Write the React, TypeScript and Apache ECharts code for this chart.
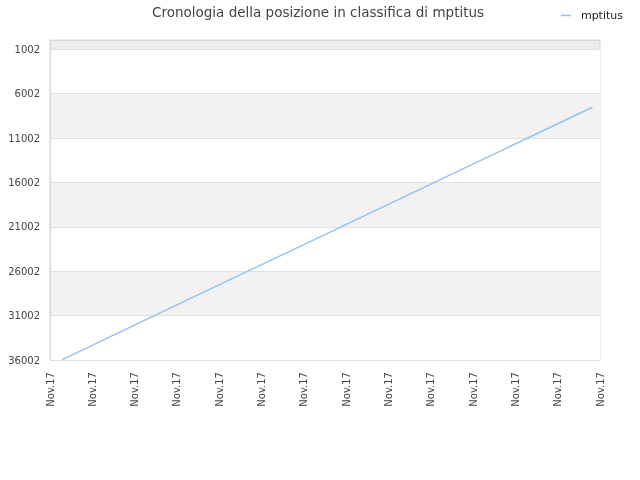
import { useEffect, useRef } from "react";
import * as echarts from "echarts";

// x position measured in label steps (0 = first "Nov.17" label)
const dayPos = [0.29, 3, 6, 9, 12.82];
const ranks = [35950, 29800, 23000, 16190, 7526];
const xLabels = [
  "Nov.17", "Nov.17", "Nov.17", "Nov.17", "Nov.17", "Nov.17", "Nov.17",
  "Nov.17", "Nov.17", "Nov.17", "Nov.17", "Nov.17", "Nov.17", "Nov.17",
];
const yTicks = [1002, 6002, 11002, 16002, 21002, 26002, 31002, 36002];

const FONT = "DejaVu Sans";
const LINE = "#94c0f0";

export default function App() {
  const chartRef = useRef<HTMLDivElement>(null);

  useEffect(() => {
    if (!chartRef.current) return;
    const chart = echarts.init(chartRef.current, null, { renderer: "svg" });

    const option: echarts.EChartsOption = {
      animation: false,
      title: {
        text: "Cronologia della posizione in classifica di mptitus",
        left: 152,
        top: 5,
        padding: 0,
        textStyle: {
          fontFamily: FONT,
          fontSize: 13.5,
          fontWeight: "normal",
          color: "#444",
        },
      },
      legend: {
        right: 12,
        top: 5,
        itemWidth: 10,
        itemHeight: 8,
        icon: "path://M0,3.5 L10,3.5 L10,5 L0,5 Z",
        textStyle: {
          fontFamily: FONT,
          fontSize: 11,
          color: "#222",
          padding: [0, 0, 0, 5],
        },
        data: ["mptitus"],
      },
      grid: {
        left: 50,
        right: 40,
        top: 40,
        bottom: 120,
        show: true,
        backgroundColor: "#ececec",
        borderColor: "#d8d8d8",
        borderWidth: 1,
      },
      xAxis: {
        type: "value",
        min: 0,
        max: xLabels.length - 1,
        interval: 1,
        axisLine: { show: true, lineStyle: { color: "#d8d8d8" } },
        axisTick: { show: false },
        splitLine: { show: false },
        axisLabel: {
          rotate: 90,
          margin: 12,
          fontFamily: FONT,
          fontSize: 10,
          color: "#444",
          formatter: (v: number) => xLabels[Math.round(v)] ?? "",
        },
      },
      yAxis: {
        type: "value",
        inverse: true,
        min: -50,
        max: 36002,
        axisLine: { show: true, lineStyle: { color: "#d8d8d8" } },
        axisTick: { show: false, customValues: yTicks },
        axisLabel: {
          customValues: yTicks,
          margin: 10,
          fontFamily: FONT,
          fontSize: 10,
          color: "#444",
          formatter: (v: number) => String(v),
        },
        splitLine: { show: true, lineStyle: { color: "#e0e0e0" } },
        splitArea: { show: true, areaStyle: { color: ["#ffffff", "#f2f2f2"] } },
      },
      series: [
        {
          name: "mptitus",
          type: "line",
          data: dayPos.map((x, i) => [x, ranks[i]]),
          showSymbol: false,
          lineStyle: { color: LINE, width: 1.4 },
          itemStyle: { color: LINE },
        },
      ],
    };

    chart.setOption(option);
    return () => {
      chart.dispose();
    };
  }, []);

  return (
    <div
      ref={chartRef}
      style={{ position: "fixed", left: 0, top: 0, width: 640, height: 480 }}
    />
  );
}
